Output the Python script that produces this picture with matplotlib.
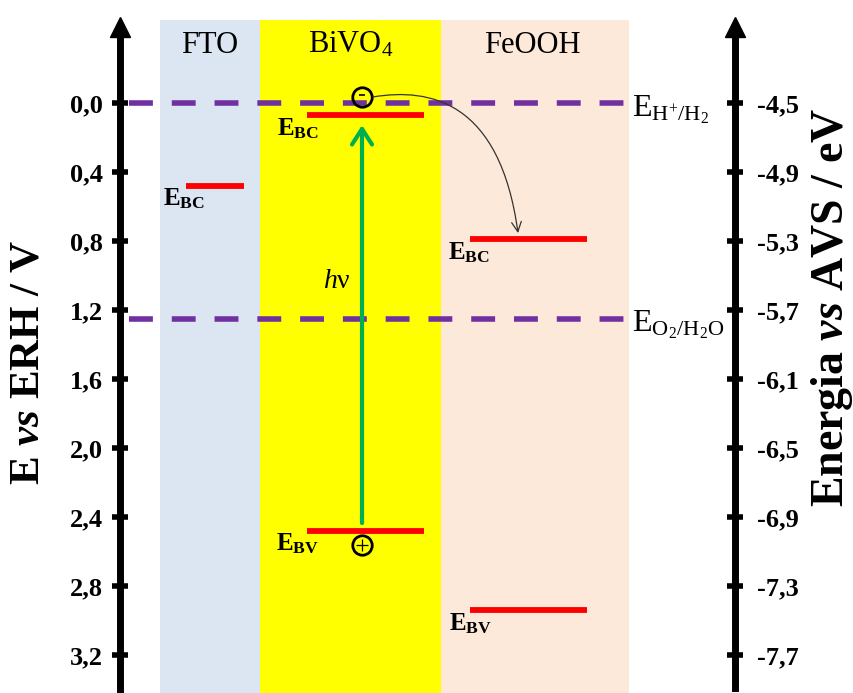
import matplotlib
matplotlib.use('Agg')
import matplotlib.pyplot as plt
import numpy as np
from matplotlib.patches import FancyArrowPatch
from matplotlib.path import Path

plt.rcParams['font.family'] = ['Liberation Serif', 'DejaVu Serif']
plt.rcParams['mathtext.fontset'] = 'custom'
plt.rcParams['mathtext.rm'] = 'Liberation Serif'
plt.rcParams['mathtext.it'] = 'Liberation Serif:italic'
plt.rcParams['mathtext.bf'] = 'Liberation Serif:bold'
plt.rcParams['mathtext.bfit'] = 'Liberation Serif:italic:bold'

# --- data (E vs ERH in V) ---
left_ticks = [0.0, 0.4, 0.8, 1.2, 1.6, 2.0, 2.4, 2.8, 3.2]
right_ticks = [-4.5, -4.9, -5.3, -5.7, -6.1, -6.5, -6.9, -7.3, -7.7]
layers = ['FTO', r'BiVO$_4$', 'FeOOH']
layer_colors = ['#DCE6F2', '#FFFF00', '#FDE9D9']
band_energy = [0.48, 0.07, 2.48, 0.79, 2.94]
band_kind = ['BC', 'BC', 'BV', 'BC', 'BV']
redox_energy = [0.0, 1.25]
redox_labels = [r'E$_{\mathrm{H^{+}/H_{2}}}$', r'E$_{\mathrm{O_{2}/H_{2}O}}$']
electron_E = -0.035
hole_E = 2.562
photon_from = 2.435
photon_to = 0.128

# layout (x in pixels of the figure)
layer_x = [(160, 260), (260, 441), (441, 629)]
layer_label_x = [210, 351, 532]
band_x = [(186, 244), (307, 424), (307, 424), (470, 587), (470, 587)]
band_label_x = [163, 277, 276, 448, 449]
carrier_x = 362

fig = plt.figure(figsize=(8.54, 6.93), dpi=100)
ax = fig.add_axes([120 / 854, 0, (735 - 120) / 854, 1])
ax.set_xlim(120, 735)
ax.set_ylim(3.420, -0.597)
ax.patch.set_alpha(0)

# columns
for (x0, x1), c in zip(layer_x, layer_colors):
    ax.axvspan(x0, x1, ymin=0, ymax=1 - 20 / 693, color=c, lw=0, zorder=0)
for x, name in zip(layer_label_x, layers):
    ax.text(x, -0.29, name, fontsize=22, ha='center', va='baseline')

# redox levels
for e, lab in zip(redox_energy, redox_labels):
    ax.hlines(e, 129, 632, colors='#7030A0', lw=4, linestyles=(0, (4.3, 3.4)), zorder=2)
    ax.text(632, e + 0.075, lab, fontsize=23, ha='left', va='baseline')

# band edges
for e, (x0, x1), lx, k in zip(band_energy, band_x, band_label_x, band_kind):
    ax.hlines(e, x0, x1, colors='#FF0000', lw=4.2, zorder=3)
    ax.text(lx, e + 0.115, r'E$_{\mathbf{%s}}$' % k, fontsize=18,
            fontweight='bold', ha='left', va='baseline')

# photon excitation
ax.annotate('', xy=(carrier_x, photon_to), xytext=(carrier_x, photon_from),
            arrowprops=dict(arrowstyle='->,head_length=0.7,head_width=0.45',
                            color='#00B050', lw=3, mutation_scale=16,
                            shrinkA=0, shrinkB=0), zorder=4)
ax.text(323, 1.072, r'$h$ν', fontsize=20, ha='left', va='baseline')

# electron and hole
ax.plot(carrier_x, electron_E, 'o', ms=14, mfc='none', mec='k', mew=2, zorder=5)
ax.plot(carrier_x, electron_E - 0.012, '_', ms=5, mec='k', mew=1.2, zorder=5)
ax.plot(carrier_x, hole_E, 'o', ms=14, mfc='none', mec='k', mew=2, zorder=5)
ax.plot(carrier_x, hole_E, '+', ms=9, mec='k', mew=0.9, zorder=5)

# electron transfer to FeOOH
verts = [(373, electron_E), (430, -0.09), (500, -0.01), (518, 0.754)]
codes = [Path.MOVETO, Path.CURVE4, Path.CURVE4, Path.CURVE4]
ax.add_patch(FancyArrowPatch(path=Path(verts, codes),
                             arrowstyle='->,head_length=0.5,head_width=0.25',
                             mutation_scale=14, lw=0.9, color='#333333', zorder=5))

# axes
ax.set_xticks([])
for s in ['top', 'bottom', 'right']:
    ax.spines[s].set_visible(False)
ax.spines['left'].set_linewidth(5)
ax.spines['left'].set_bounds(-0.39, 3.41)
ax.set_yticks(left_ticks, [f'{v:.1f}'.replace('.', ',') for v in left_ticks],
              fontsize=19, fontweight='bold')
ax.tick_params(axis='y', direction='inout', length=11, width=4, pad=6.5)
ax.plot(0, -0.442, '^', ms=14, color='k', transform=ax.get_yaxis_transform(),
        clip_on=False)

ax2 = ax.twinx()
ax2.set_ylim(-4.5 - 3.420, -4.5 + 0.597)
for s in ['top', 'bottom', 'left']:
    ax2.spines[s].set_visible(False)
ax2.spines['right'].set_linewidth(5)
ax2.spines['right'].set_bounds(-4.5 - 3.39, -4.5 + 0.39)
ax2.set_yticks(right_ticks, [f'{v:.1f}'.replace('.', ',') for v in right_ticks],
               fontsize=19, fontweight='bold')
ax2.tick_params(axis='y', direction='inout', length=11, width=4, pad=10)
ax2.plot(1, -4.5 + 0.442, '^', ms=15, color='k', transform=ax2.get_yaxis_transform(),
         clip_on=False)

fig.text(29 / 854, 1 - 362 / 693, r'E $\mathbfit{vs}$ ERH / V', rotation=90,
         fontsize=31, fontweight='bold', ha='center', va='center')
fig.text(832 / 854, 1 - 307 / 693, r'Energia $\mathbfit{vs}$ AVS / eV', rotation=90,
         fontsize=33, fontweight='bold', ha='center', va='center')

plt.savefig('out.png', dpi=100)
